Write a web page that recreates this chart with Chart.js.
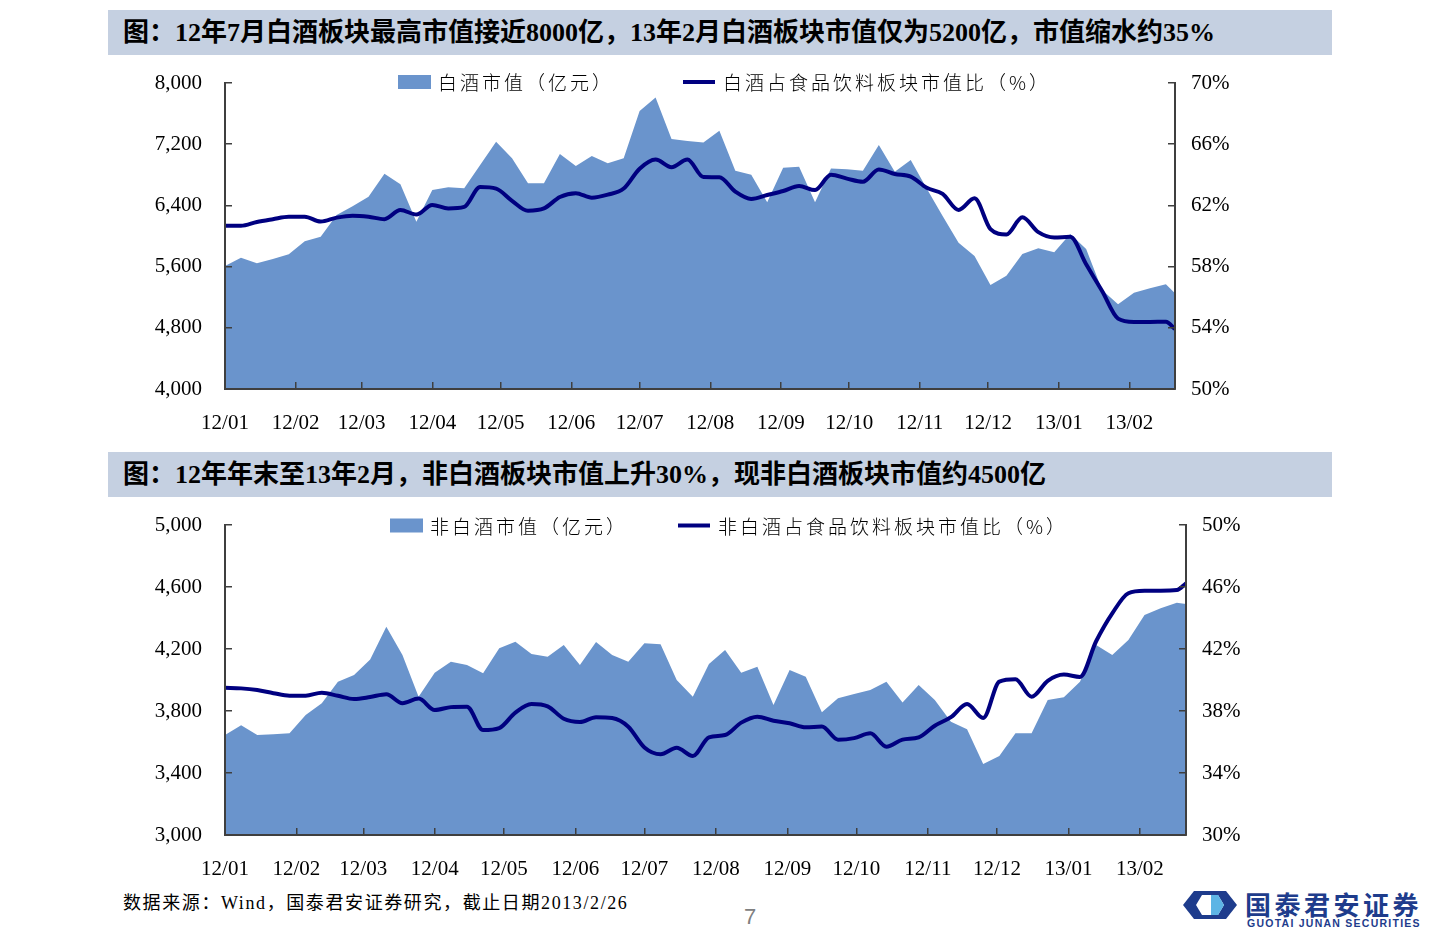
<!DOCTYPE html>
<html>
<head>
<meta charset="utf-8">
<script src="https://cdn.jsdelivr.net/npm/chart.js@4.4.1/dist/chart.umd.min.js"></script>
<style>
  html, body { margin: 0; padding: 0; background: #fff; }
  body { width: 1440px; height: 932px; position: relative; overflow: hidden; }
  .bar { position: absolute; left: 108px; width: 1224px; height: 45px; background: #C5D0E1; }
  .bar span { position: absolute; left: 15px; top: 0; line-height: 46px; font-size: 26px; font-weight: bold;
    font-family: "Liberation Serif", "Noto Sans CJK SC", serif; color: #000; white-space: nowrap; }
  canvas { position: absolute; left: 0; }
  #src { position: absolute; left: 123px; top: 888px; font-size: 18px; letter-spacing: 1.6px;
    font-family: "Liberation Serif", "Noto Sans CJK SC", serif; color: #000; white-space: nowrap; }
  #page { position: absolute; left: 744px; top: 904px; font-size: 22px; font-family: "Liberation Sans", sans-serif; color: #808080; }
  #logo { position: absolute; left: 1183px; top: 890px; width: 250px; height: 40px; }
  #logo svg { position: absolute; left: 0; top: 1px; }
  #logo .cn { position: absolute; left: 62px; top: -5px; font-size: 26px; font-weight: bold; letter-spacing: 3.5px;
    font-family: "Noto Sans CJK SC", sans-serif; color: #1E3C8C; white-space: nowrap; }
  #logo .en { position: absolute; left: 64px; top: 27px; font-size: 10.5px; font-weight: bold; letter-spacing: 1.25px;
    font-family: "Liberation Sans", sans-serif; color: #1E3C8C; white-space: nowrap; }
</style>
</head>
<body>
<div class="bar" style="top:10px"><span>图：12年7月白酒板块最高市值接近8000亿，13年2月白酒板块市值仅为5200亿，市值缩水约35%</span></div>
<canvas id="c1" width="1440" height="380" style="top:60px"></canvas>
<div class="bar" style="top:452px"><span>图：12年年末至13年2月，非白酒板块市值上升30%，现非白酒板块市值约4500亿</span></div>
<canvas id="c2" width="1440" height="385" style="top:500px"></canvas>
<div id="src">数据来源：Wind，国泰君安证券研究，截止日期2013/2/26</div>
<div id="page">7</div>
<div id="logo">
  <svg width="54" height="28" viewBox="0 0 54 28">
    <polygon points="11,0 43,0 54,14 43,28 11,28 0,14" fill="#1E3C8C"/>
    <polygon points="19,4 35,4 41,14 35,24 19,24 13,14" fill="#ffffff"/>
    <polygon points="28,4 35,4 41,14 35,24 28,24" fill="#5DB5E5"/>
  </svg>
  <div class="cn">国泰君安证券</div>
  <div class="en">GUOTAI JUNAN SECURITIES</div>
</div>
<script>
// ---------- data ----------
const monthLabels = ['12/01','12/02','12/03','12/04','12/05','12/06','12/07','12/08','12/09','12/10','12/11','12/12','13/01','13/02'];
const startDate = '2012-01-01';
const lastObsDate = '2013-02-21';
const weeklyPoints = 60; // weekly observations, followed by a final observation at lastObsDate

const whiteValue = [5608,5716,5643,5700,5760,5930,5990,6274,6390,6513,
  6814,6675,6187,6600,6636,6623,6928,7232,7015,6689,
  6689,7071,6915,7045,6950,7015,7633,7812,7267,7241,
  7223,7375,6853,6800,6440,6893,6906,6440,6883,6871,
  6853,7189,6840,6993,6621,6260,5912,5738,5359,5481,
  5764,5839,5786,6026,5830,5294,5107,5259,5316,5368,
  5251];
const whiteRatio = [60.67,60.67,60.92,61.1,61.26,61.26,60.94,61.2,61.33,61.26,
  61.1,61.7,61.4,62.03,61.8,61.9,63.2,63.1,62.3,61.65,
  61.8,62.55,62.8,62.5,62.7,63.1,64.4,65.0,64.5,65.0,
  63.85,63.84,62.9,62.42,62.68,62.94,63.27,63.0,64.0,63.75,
  63.55,64.35,64.05,63.88,63.15,62.75,61.7,62.46,60.45,60.1,
  61.22,60.25,59.9,59.95,58.15,56.4,54.6,54.38,54.38,54.4,
  53.92];
const nonWhiteValue = [3645,3708,3645,3650,3656,3774,3850,3989,4032,4133,
  4344,4161,3892,4047,4118,4097,4043,4205,4247,4168,
  4150,4226,4097,4245,4161,4118,4237,4231,4000,3892,
  4103,4194,4047,4086,3839,4065,4021,3792,3882,3910,
  3935,3989,3855,3968,3871,3731,3682,3458,3510,3656,
  3656,3871,3888,3989,4226,4161,4258,4419,4463,4499,
  4490];
const nonWhiteRatio = [39.5,39.46,39.35,39.15,38.99,38.99,39.18,38.98,38.77,38.9,
  39.08,38.5,38.8,38.06,38.25,38.28,36.77,36.9,37.9,38.45,
  38.3,37.5,37.29,37.6,37.55,36.99,35.65,35.21,35.63,35.1,
  36.3,36.45,37.25,37.63,37.37,37.21,36.95,37.0,36.15,36.25,
  36.56,35.7,36.15,36.3,37.05,37.6,38.45,37.55,39.9,40.05,
  38.92,39.95,40.35,40.2,42.5,44.3,45.6,45.76,45.76,45.8,
  46.24];

const leftTicksTop = [4000, 8000, 800];
const rightTicksTop = [50, 70, 4];
const leftTicksBottom = [3000, 5000, 400];
const rightTicksBottom = [30, 50, 4];

const labelsTop = ['白酒市值（亿元）', '白酒占食品饮料板块市值比（%）'];
const labelsBottom = ['非白酒市值（亿元）', '非白酒占食品饮料板块市值比（%）'];

// ---------- date helpers (x axis in days since start) ----------
const DAY = 86400000;
const t0 = Date.parse(startDate + 'T00:00:00Z');
const dayOf = (iso) => Math.round((Date.parse(iso + 'T00:00:00Z') - t0) / DAY);
const monthDays = monthLabels.map(l => {
  const [yy, mm] = l.split('/');
  return dayOf(`20${yy}-${mm}-01`);
});
const obsDays = [];
for (let i = 0; i < weeklyPoints; i++) obsDays.push(i * 7);
obsDays.push(dayOf(lastObsDate));
const xMax = obsDays[obsDays.length - 1];

const pts = (vals) => vals.map((v, i) => ({ x: obsDays[i], y: v }));

// ---------- style ----------
const AREA = '#6A94CC';
const LINE = '#000080';
const AXIS = '#3f3f3f';
const tickFont = { family: '"Liberation Serif", "Times New Roman", serif', size: 21 };

const legendPlugin = {
  id: 'slideLegend',
  afterDraw(chart, args, opts) {
    const { ctx, chartArea } = chart;
    ctx.save();
    ctx.font = '300 19px "Noto Sans CJK SC", sans-serif';
    if ('letterSpacing' in ctx) ctx.letterSpacing = '3px';
    ctx.textBaseline = 'middle';
    const cy = chartArea.top + opts.dy;
    chart.data.datasets.forEach((ds, i) => {
      const x = chartArea.left + opts.offsets[i];
      if (ds.fill) {
        ctx.fillStyle = ds.backgroundColor;
        ctx.fillRect(x, cy - 7, 33, 14);
      } else {
        ctx.strokeStyle = ds.borderColor;
        ctx.lineWidth = 4;
        ctx.beginPath();
        ctx.moveTo(x, cy);
        ctx.lineTo(x + 32, cy);
        ctx.stroke();
      }
      ctx.fillStyle = '#000';
      ctx.fillText(ds.label, x + 40, cy + 1);
    });
    ctx.restore();
  }
};

function makeChart(id, cfg) {
  const axisGrid = { display: true, drawOnChartArea: false, drawTicks: true, tickLength: -7, color: AXIS, lineWidth: 1.5, z: 1 };
  const axisBorder = { display: true, color: AXIS, width: 2, z: 1 };
  const fitY = (w) => (s) => { s.width = w; s.paddingTop = 0; s.paddingBottom = 0; };
  return new Chart(document.getElementById(id), {
    type: 'line',
    data: {
      datasets: [
        { label: cfg.labels[0], data: pts(cfg.area), yAxisID: 'y', backgroundColor: AREA, borderWidth: 0,
          borderColor: AREA, fill: 'start', pointRadius: 0, tension: 0, order: 2 },
        { label: cfg.labels[1], data: pts(cfg.line), yAxisID: 'y1', borderColor: LINE, borderWidth: 4,
          fill: false, pointRadius: 0, cubicInterpolationMode: 'monotone', order: 1 }
      ]
    },
    options: {
      responsive: false, animation: false, devicePixelRatio: 1,
      layout: { padding: { top: cfg.padTop, left: 0, right: 0, bottom: 0 } },
      plugins: { legend: { display: false }, tooltip: { enabled: false },
        slideLegend: { offsets: cfg.legendOffsets, dy: cfg.legendDy } },
      scales: {
        x: {
          type: 'linear', min: 0, max: xMax,
          afterBuildTicks: (s) => { s.ticks = monthDays.map(v => ({ value: v })); },
          afterFit: (s) => { s.height = cfg.xHeight; s.paddingLeft = 0; s.paddingRight = 0; },
          grid: axisGrid, border: axisBorder,
          ticks: { autoSkip: false, maxRotation: 0, minRotation: 0, padding: 29, color: '#000', font: tickFont,
            callback: (v, i) => monthLabels[i] }
        },
        y: {
          position: 'left', min: cfg.left[0], max: cfg.left[1],
          afterFit: fitY(cfg.leftWidth),
          grid: axisGrid, border: axisBorder,
          ticks: { stepSize: cfg.left[2], padding: 30, color: '#000', font: tickFont,
            callback: (v) => v.toLocaleString('en-US') }
        },
        y1: {
          position: 'right', min: cfg.right[0], max: cfg.right[1],
          afterFit: fitY(cfg.rightWidth),
          grid: axisGrid, border: axisBorder,
          ticks: { stepSize: cfg.right[2], padding: 23, color: '#000', font: tickFont,
            callback: (v) => v + '%' }
        }
      }
    },
    plugins: [legendPlugin]
  });
}

makeChart('c1', {
  labels: labelsTop, area: whiteValue, line: whiteRatio,
  left: leftTicksTop, right: rightTicksTop,
  padTop: 23, xHeight: 51, leftWidth: 225, rightWidth: 265,
  legendOffsets: [173, 458], legendDy: -1
});
makeChart('c2', {
  labels: labelsBottom, area: nonWhiteValue, line: nonWhiteRatio,
  left: leftTicksBottom, right: rightTicksBottom,
  padTop: 25, xHeight: 50, leftWidth: 225, rightWidth: 254,
  legendOffsets: [165, 453], legendDy: 0.5
});
</script>
</body>
</html>
